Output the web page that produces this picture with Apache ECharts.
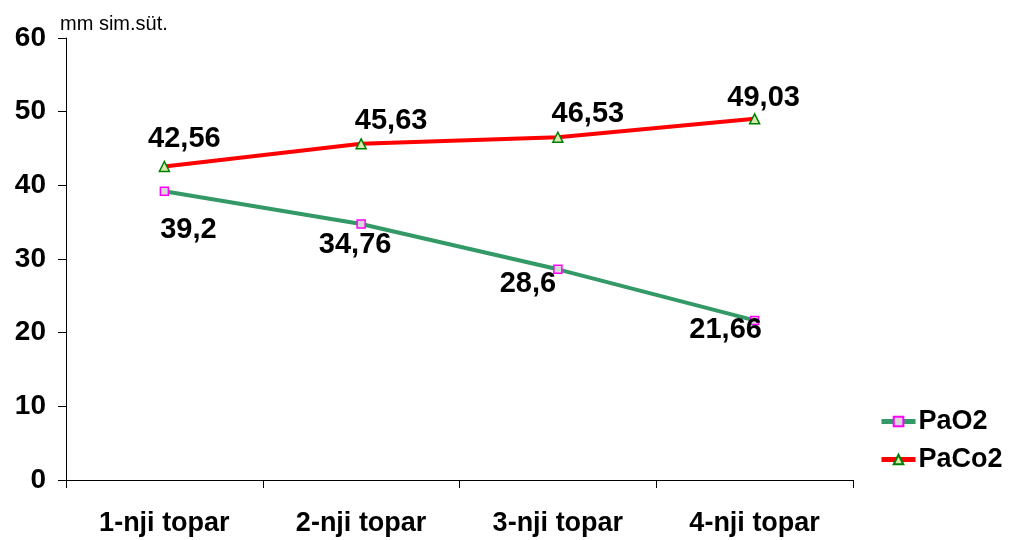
<!DOCTYPE html>
<html><head><meta charset="utf-8">
<script src="https://cdn.jsdelivr.net/npm/echarts@6/dist/echarts.min.js"></script>
<style>html,body{margin:0;padding:0;background:#fff}#c{width:1009px;height:540px}</style>
</head><body><div id="c"></div>
<script>
const categories = ['1-nji topar', '2-nji topar', '3-nji topar', '4-nji topar'];
const pao2 = [39.2, 34.76, 28.6, 21.66];
const paco2 = [42.56, 45.63, 46.53, 49.03];
const yTicks = [0, 10, 20, 30, 40, 50, 60];
const pao2Offsets = [[24, 39], [-6, 21], [-30, 15], [-29, 10]];
const paco2Offsets = [[20, -27], [30, -23], [30, -23], [9, -21]];
const fmt = v => String(v).replace('.', ',');
const font = 'Liberation Sans, Arial, sans-serif';
const chart = echarts.init(document.getElementById('c'));
chart.setOption({
  animation: false,
  textStyle: { fontFamily: font },
  grid: { left: 66, right: 156, top: 38, bottom: 60 },
  legend: {
    orient: 'vertical', left: 874, top: 403, itemWidth: 34, itemHeight: 12, itemGap: 11,
    lineStyle: { width: 5 },
    textStyle: { fontSize: 27, fontWeight: 'bold', color: '#000', fontFamily: font, padding: [0, 0, 0, -2] },
    data: ['PaO2', 'PaCo2']
  },
  xAxis: {
    type: 'category', data: categories, boundaryGap: true,
    axisLine: { lineStyle: { color: '#000', width: 1 } },
    axisTick: { show: true, length: 8, lineStyle: { color: '#000' } },
    axisLabel: { fontSize: 27, fontWeight: 'bold', color: '#000', margin: 30, fontFamily: font }
  },
  yAxis: {
    type: 'value', min: 0, max: 60, interval: 10,
    name: 'mm sim.süt.', nameLocation: 'end', nameGap: 4,
    nameTextStyle: { fontSize: 20, color: '#000', align: 'left', padding: [0, 0, 0, -6], fontFamily: font },
    axisLine: { show: true, lineStyle: { color: '#000', width: 1 } },
    axisTick: { show: true, length: 8, lineStyle: { color: '#000' } },
    splitLine: { show: false },
    axisLabel: { fontSize: 28, fontWeight: 'bold', color: '#000', margin: 20, fontFamily: font,
      formatter: v => yTicks.includes(v) ? String(v) : '' }
  },
  series: [
    {
      name: 'PaO2', type: 'line', data: pao2.map((v, i) => ({ value: v, label: { offset: pao2Offsets[i] } })),
      lineStyle: { color: '#339966', width: 4 },
      itemStyle: { color: '#d8d8d8', borderColor: '#ff00ff', borderWidth: 1.5 },
      symbol: 'rect', symbolSize: 8, showAllSymbol: true,
      label: { show: true, position: 'inside', fontSize: 29, fontWeight: 'bold', color: '#000', fontFamily: font,
        formatter: p => fmt(p.value) }
    },
    {
      name: 'PaCo2', type: 'line', data: paco2.map((v, i) => ({ value: v, label: { offset: paco2Offsets[i] } })),
      lineStyle: { color: '#ff0000', width: 4 },
      itemStyle: { color: '#d8e8b0', borderColor: '#008000', borderWidth: 1.5 },
      symbol: 'triangle', symbolSize: 10, showAllSymbol: true,
      label: { show: true, position: 'inside', fontSize: 29, fontWeight: 'bold', color: '#000', fontFamily: font,
        formatter: p => fmt(p.value) }
    }
  ]
});
</script></body></html>
